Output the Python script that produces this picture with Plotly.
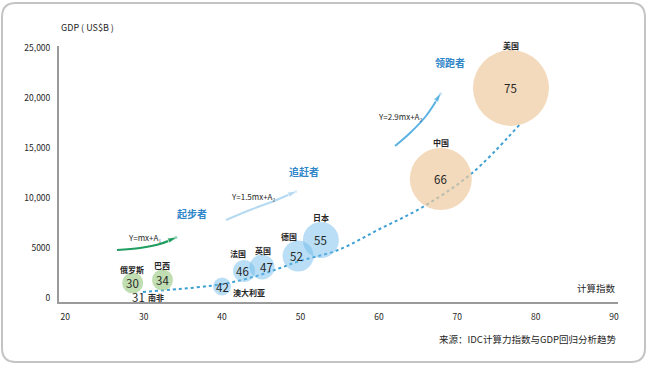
import plotly.graph_objects as go

# ---------------- data ----------------
countries = ['俄罗斯', '巴西', '南非', '澳大利亚', '法国', '英国', '德国', '日本', '中国', '美国']
compute_index = [30, 34, 31, 42, 46, 47, 52, 55, 66, 75]
x_pos = [28.6, 32.4, 29.3, 40.0, 42.8, 45.1, 49.7, 52.6, 67.9, 76.85]
gdp = [1500, 1800, 100, 1150, 2700, 3100, 4200, 5800, 11900, 21000]
bubble_d = [21, 21, 0, 18, 22, 25, 31, 36, 62, 76]
group = ['g', 'g', 'g', 'b', 'b', 'b', 'b', 'b', 'o', 'o']

trend_x = [29.9, 34.6, 38.8, 41.4, 44.8, 47.4, 49.9, 54.8, 60.1, 65.6, 71.9, 77.9]
trend_y = [600, 900, 1250, 1600, 2300, 3000, 3700, 4800, 6900, 9100, 12500, 17300]

x_ticks = [20, 30, 40, 50, 60, 70, 80, 90]
y_ticks = [0, 5000, 10000, 15000, 20000, 25000]
y_ticktext = ['0', '5000', '10,000', '15,000', '20,000', '25,000']

# ---------------- layout geometry ----------------
W, H = 648, 365
L, R, T, B = 59, 30, 46, 63
PW, PH = W - L - R, H - T - B
XR = [19.2, 90.5]
YR = [-400, 25200]

def px2x(px):
    return XR[0] + (px - L) / PW * (XR[1] - XR[0])

def py2y(py):
    return YR[0] + (T + PH - py) / PH * (YR[1] - YR[0])

def px2p(px):
    return (px - L) / PW

def py2p(py):
    return (T + PH - py) / PH

FONT = 'Noto Sans CJK SC'
TXT = '#262626'
col = {'g': '#a7cf92', 'b': 'rgba(112,188,234,0.7)', 'o': '#f0cba0'}

fig = go.Figure()

# trend (dotted)
fig.add_trace(go.Scatter(
    x=trend_x, y=trend_y, mode='lines',
    line=dict(color='#3e9fd3', width=2, dash='dot', shape='spline', smoothing=1.0),
    hoverinfo='skip', showlegend=False))

# bubbles
fig.add_trace(go.Scatter(
    x=x_pos, y=gdp, mode='markers',
    marker=dict(size=bubble_d, sizemode='diameter',
                color=[col[g] for g in group], line=dict(width=0)),
    showlegend=False, hoverinfo='skip'))

# number labels
num_dx = [0, 0, 0, 0, -2, 4, -2, 0, 0, 0]
for xi, yi, v, dx in zip(x_pos, gdp, compute_index, num_dx):
    fig.add_annotation(x=xi, y=yi, text=str(v), showarrow=False, xshift=dx,
                       font=dict(family=FONT, size=11.5, color=TXT))

# country name labels (pixel offsets from bubble center)
name_dx = [-1, 0, 18, 27, -6, 1, -9, 0, 0, 0]
name_dy = [14, 15, 0, -6, 18, 17, 20, 23, 37, 43]
for xi, yi, n, dx, dy in zip(x_pos, gdp, countries, name_dx, name_dy):
    fig.add_annotation(x=xi, y=yi, text=n, showarrow=False, xshift=dx, yshift=dy,
                       font=dict(family=FONT, size=8, color=TXT, weight='bold'))

# curved arrows
arrows = [
    ([117, 140, 160, 177], [250, 248, 244, 237], '#1f9e60', 2),
    ([226, 250, 274, 297], [220, 210, 201, 191], '#b5daf1', 2),
    ([395, 410, 426, 441], [146, 133, 116, 93], '#5bb3e3', 2),
]
for axs, ays, c, w in arrows:
    n = len(axs)
    fig.add_trace(go.Scatter(
        x=[px2x(a) for a in axs], y=[py2y(a) for a in ays], mode='lines+markers',
        line=dict(color=c, width=w, shape='spline'),
        marker=dict(symbol='arrow', angleref='previous', color=c,
                    size=[0] * (n - 1) + [10]),
        hoverinfo='skip', showlegend=False))

# texts near arrows
texts = [
    ('Y=mx+A₁', 144, 237, 8, TXT, 'normal'),
    ('Y=1.5mx+A₂', 253, 196, 8, TXT, 'normal'),
    ('Y=2.9mx+A₂', 400, 116, 8, TXT, 'normal'),
    ('起步者', 192, 213, 10, '#2f86c8', 'bold'),
    ('追赶者', 304, 171, 10, '#2f86c8', 'bold'),
    ('领跑者', 450, 62, 10, '#2f86c8', 'bold'),
]
for t, px, py, s, c, wgt in texts:
    fig.add_annotation(x=px2p(px), y=py2p(py), xref='paper', yref='paper', text=t,
                       showarrow=False, xanchor='center', yanchor='middle',
                       font=dict(family=FONT, size=s, color=c, weight=wgt))

# axis titles and source
fig.add_annotation(x=px2p(59), y=py2p(27), xref='paper', yref='paper', text='GDP ( US$B )',
                   showarrow=False, xanchor='left', yanchor='middle',
                   font=dict(family=FONT, size=9, color=TXT))
fig.add_annotation(x=px2p(618), y=py2p(288), xref='paper', yref='paper', text='计算指数',
                   showarrow=False, xanchor='right', yanchor='middle',
                   font=dict(family=FONT, size=9.5, color=TXT))
fig.add_annotation(x=px2p(618), y=py2p(339), xref='paper', yref='paper',
                   text='来源：IDC计算力指数与GDP回归分析趋势',
                   showarrow=False, xanchor='right', yanchor='middle',
                   font=dict(family=FONT, size=9.5, color=TXT))

# rounded frame
fl, fr, ft, fb, rr = 2, 645, 3, 362, 14
def P(px, py):
    return f'{px2p(px):.5f},{py2p(py):.5f}'
path = (f'M {P(fl + rr, ft)} L {P(fr - rr, ft)} Q {P(fr, ft)} {P(fr, ft + rr)} '
        f'L {P(fr, fb - rr)} Q {P(fr, fb)} {P(fr - rr, fb)} '
        f'L {P(fl + rr, fb)} Q {P(fl, fb)} {P(fl, fb - rr)} '
        f'L {P(fl, ft + rr)} Q {P(fl, ft)} {P(fl + rr, ft)} Z')
fig.add_shape(type='path', path=path, xref='paper', yref='paper',
              line=dict(color='#c4c4c4', width=2), layer='below')

fig.update_layout(
    width=W, height=H,
    margin=dict(l=L, r=R, t=T, b=B, pad=0),
    paper_bgcolor='white', plot_bgcolor='white',
    font=dict(family=FONT, color=TXT),
    xaxis=dict(range=XR, tickvals=x_ticks, showgrid=False, zeroline=False,
               showline=True, linecolor='#9a9a9a', linewidth=2, ticks='',
               ticklabelstandoff=6, tickfont=dict(size=8.5, color=TXT, family=FONT)),
    yaxis=dict(range=YR, tickvals=y_ticks, ticktext=y_ticktext, showgrid=False, zeroline=False,
               showline=True, linecolor='#9a9a9a', linewidth=2, ticks='',
               ticklabelstandoff=5, tickfont=dict(size=8.5, color=TXT, family=FONT)),
    showlegend=False,
)

fig.write_html('out.html', config={'displayModeBar': False},
               post_script="document.body.style.margin='0';document.body.style.overflow='hidden';")
